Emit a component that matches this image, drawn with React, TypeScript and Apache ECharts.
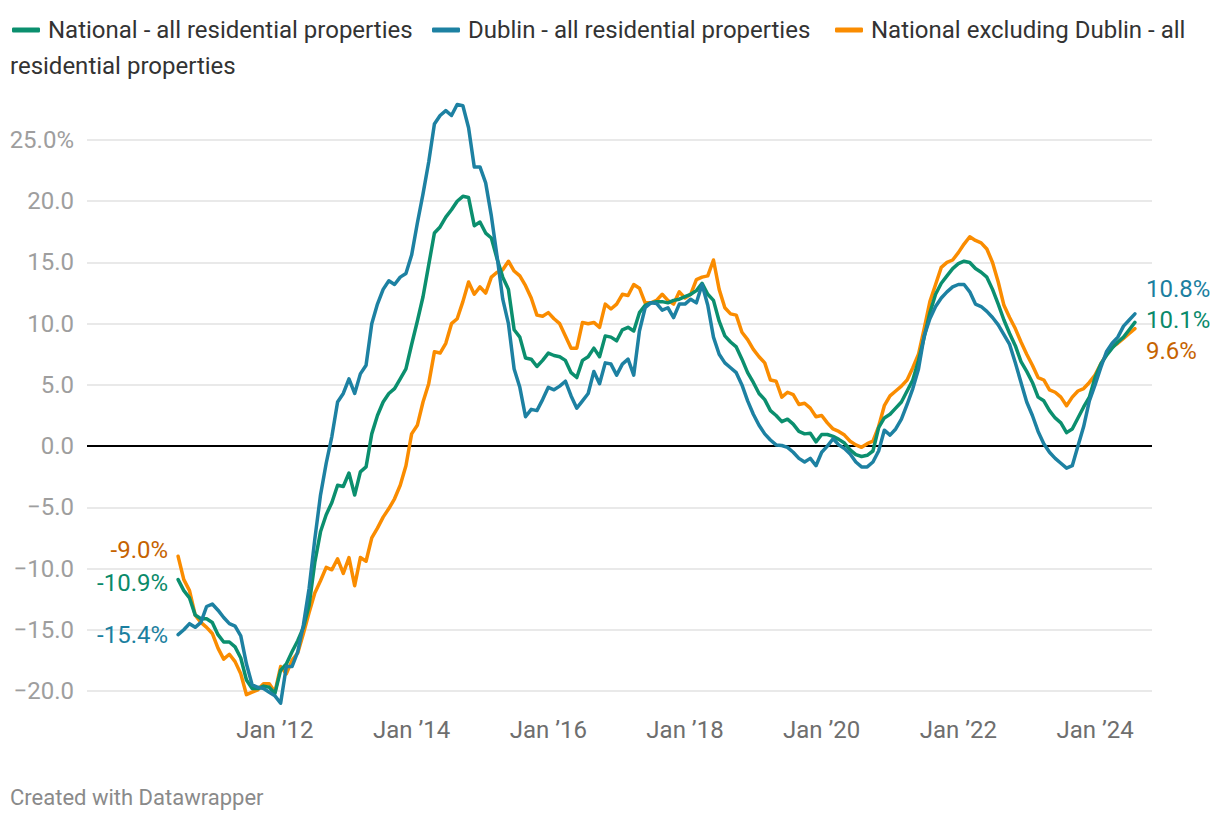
import React, { useEffect, useRef } from "react";
import * as echarts from "echarts";

// Monthly annual % change, Aug 2010 .. Aug 2024 (one row = 12 months from August)
const national = [
  -10.9, -11.8, -12.4, -13.8, -14.1, -14.1, -14.4, -15.4, -16.0, -16.0, -16.4, -17.3,
  -19.1, -19.8, -19.8, -19.6, -19.7, -20.2, -18.3, -17.8, -16.8, -15.9, -14.8, -13.0,
  -9.5, -7.0, -5.6, -4.6, -3.2, -3.3, -2.2, -4.0, -2.1, -1.7, 1.0, 2.5,
  3.6, 4.3, 4.7, 5.5, 6.3, 8.3, 10.2, 12.2, 14.8, 17.4, 17.9, 18.7,
  19.3, 20.0, 20.4, 20.3, 18.0, 18.3, 17.4, 17.0, 15.3, 13.8, 12.8, 9.5,
  8.9, 7.2, 7.1, 6.5, 7.0, 7.6, 7.4, 7.3, 7.0, 6.0, 5.6, 7.0,
  7.3, 8.0, 7.3, 9.0, 8.9, 8.6, 9.5, 9.7, 9.4, 10.9, 11.5, 11.7,
  11.8, 11.8, 11.7, 11.9, 12.0, 12.2, 12.4, 12.7, 13.3, 12.4, 11.9, 10.2,
  9.0, 8.5, 8.1, 7.1, 6.0, 5.2, 4.3, 3.8, 2.9, 2.5, 2.0, 2.2,
  1.8, 1.2, 1.0, 1.05, 0.35, 0.95, 0.95, 0.8, 0.55, 0.25, -0.3, -0.7,
  -0.85, -0.75, -0.4, 1.5, 2.3, 2.6, 3.1, 3.6, 4.5, 5.4, 7.0, 8.9,
  10.9, 12.4, 13.3, 13.9, 14.5, 14.9, 15.1, 15.0, 14.5, 14.2, 13.8, 12.8,
  11.6, 10.3, 9.2, 8.2, 6.9, 6.1, 5.2, 4.0, 3.7, 2.9, 2.3, 1.9,
  1.1, 1.4, 2.3, 3.2, 4.0, 5.6, 6.7, 7.4, 8.0, 8.5, 8.9, 9.5,
  10.1,
];

const dublin = [
  -15.4, -15.0, -14.5, -14.8, -14.4, -13.1, -12.9, -13.4, -14.0, -14.5, -14.7, -15.5,
  -17.8, -19.5, -19.7, -19.8, -20.1, -20.4, -21.0, -18.0, -18.0, -16.8, -14.6, -11.6,
  -7.6, -4.0, -1.4, 0.8, 3.6, 4.3, 5.5, 4.3, 5.9, 6.6, 10.0, 11.6,
  12.8, 13.5, 13.2, 13.8, 14.1, 15.6, 18.2, 20.6, 23.2, 26.3, 27.0, 27.4,
  27.0, 27.9, 27.8, 26.0, 22.8, 22.8, 21.5, 18.8, 15.5, 12.0, 10.0, 6.3,
  4.8, 2.4, 3.0, 2.9, 3.8, 4.8, 4.6, 4.9, 5.3, 4.1, 3.1, 3.7,
  4.3, 6.1, 5.1, 6.8, 6.7, 5.8, 6.7, 7.1, 5.8, 9.4, 11.3, 11.7,
  11.65, 11.1, 11.3, 10.5, 11.6, 11.6, 12.0, 11.7, 13.2, 11.5, 8.9, 7.5,
  6.8, 6.4, 6.0, 5.0, 3.7, 2.6, 1.7, 1.0, 0.5, 0.1, 0.05, -0.1,
  -0.5, -1.0, -1.3, -1.0, -1.6, -0.5, 0.0, 0.6, 0.1, -0.2, -0.65, -1.3,
  -1.7, -1.7, -1.3, -0.4, 1.3, 0.9, 1.4, 2.2, 3.4, 4.7, 6.3, 9.0,
  10.4, 11.4, 12.1, 12.6, 13.0, 13.2, 13.2, 12.6, 11.6, 11.4, 11.0, 10.5,
  9.9, 9.1, 8.3, 6.8, 5.2, 3.6, 2.5, 1.2, 0.2, -0.5, -1.0, -1.4,
  -1.8, -1.6, 0.0, 1.6, 3.7, 5.0, 6.4, 7.7, 8.4, 8.9, 9.8, 10.3,
  10.8,
];

const nationalExDublin = [
  -9.0, -10.9, -11.8, -13.8, -14.4, -14.8, -15.3, -16.5, -17.4, -17.0, -17.6, -18.6,
  -20.3, -20.1, -19.9, -19.4, -19.4, -20.1, -18.0, -18.6, -17.5, -16.9, -15.3, -13.6,
  -12.0, -11.0, -9.9, -10.1, -9.2, -10.4, -9.1, -11.4, -9.1, -9.4, -7.5, -6.7,
  -5.8, -5.1, -4.3, -3.2, -1.6, 1.0, 1.7, 3.6, 5.1, 7.7, 7.6, 8.4,
  10.0, 10.4, 11.8, 13.4, 12.4, 13.0, 12.5, 13.8, 14.2, 14.4, 15.1, 14.3,
  13.9, 13.1, 12.1, 10.7, 10.6, 10.9, 10.4, 10.0, 9.0, 8.0, 8.0, 10.1,
  10.0, 10.1, 9.7, 11.6, 11.2, 11.6, 12.4, 12.3, 13.2, 12.9, 11.7, 11.7,
  11.9, 12.4, 11.9, 11.6, 12.6, 12.1, 12.4, 13.6, 13.8, 13.9, 15.2, 12.8,
  11.3, 10.8, 10.7, 9.3, 8.7, 7.9, 7.3, 6.8, 5.4, 5.3, 4.0, 4.4,
  4.2, 3.4, 3.5, 3.1, 2.4, 2.5, 1.9, 1.4, 1.2, 0.9, 0.4, 0.1,
  -0.1, 0.2, 0.4, 1.6, 3.3, 4.1, 4.5, 4.9, 5.4, 6.4, 7.5, 9.6,
  11.8, 13.2, 14.6, 15.0, 15.2, 15.8, 16.5, 17.1, 16.8, 16.6, 16.1, 15.0,
  13.4, 11.5, 10.5, 9.6, 8.5, 7.5, 6.6, 5.6, 5.4, 4.6, 4.4, 4.0,
  3.3, 4.0, 4.5, 4.7, 5.2, 5.8, 6.7, 7.5, 8.1, 8.4, 8.8, 9.2,
  9.6,
];

const START_YEAR = 2010;
const START_MONTH = 7; // August (0-based)

const xTickYears = [2012, 2014, 2016, 2018, 2020, 2022, 2024];
const xTickLabels = ["Jan \u201912", "Jan \u201914", "Jan \u201916", "Jan \u201918", "Jan \u201920", "Jan \u201922", "Jan \u201924"];
const yTicks = [-20, -15, -10, -5, 0, 5, 10, 15, 20, 25];

const seriesNames = [
  "National - all residential properties",
  "Dublin - all residential properties",
  "National excluding Dublin - all residential properties",
];

const COLORS = { national: "#0b8f6e", dublin: "#1d81a2", exDublin: "#fa8c00" };
const TEXT_COLORS = { national: "#0a8a6a", dublin: "#1b7fa0", exDublin: "#c66300" };

const FONT = "Roboto, 'Noto Sans', sans-serif";

function monthIndex(year: number, month: number) {
  return (year - START_YEAR) * 12 + (month - START_MONTH);
}

function buildData(values: number[], color: string, startDy: number, endDy: number) {
  const last = values.length - 1;
  return values.map((v, i) => {
    if (i === 0) {
      return {
        value: [i, v],
        label: {
          show: true,
          position: "left",
          distance: 10,
          offset: [0, startDy],
          formatter: (v < 0 ? "-" : "") + Math.abs(v).toFixed(1) + "%",
          color,
          fontSize: 24,
          fontFamily: FONT,
        },
      };
    }
    if (i === last) {
      return {
        value: [i, v],
        label: {
          show: true,
          position: "right",
          distance: 11,
          offset: [0, endDy],
          formatter: v.toFixed(1) + "%",
          color,
          fontSize: 24,
          fontFamily: FONT,
        },
      };
    }
    return [i, v];
  });
}

export default function App() {
  const ref = useRef<HTMLDivElement>(null);

  useEffect(() => {
    if (!ref.current) return;
    const chart = echarts.init(ref.current, null, { renderer: "svg" });

    const tickIdx = xTickYears.map((y) => monthIndex(y, 0));
    const tickMap: Record<number, string> = {};
    tickIdx.forEach((t, i) => (tickMap[t] = xTickLabels[i]));

    const lineSeries = (name: string, values: number[], color: string, textColor: string, sdy: number, edy: number, extra: any = {}) => ({
      name,
      type: "line",
      data: buildData(values, textColor, sdy, edy),
      showSymbol: true,
      symbol: "circle",
      symbolSize: 0,
      clip: false,
      lineStyle: { color, width: 3.5, join: "round", cap: "round" },
      itemStyle: { color },
      emphasis: { disabled: true },
      ...extra,
    });

    const legendCommon = {
      top: 15,
      padding: 0,
      itemWidth: 28,
      itemHeight: 5,
      icon: "roundRect",
      selectedMode: false,
      textStyle: { fontSize: 24, fontFamily: FONT, color: "#333", padding: [0, 0, 0, 3], lineHeight: 30 },
    };

    chart.setOption({
      animation: false,
      grid: { left: 87, right: 68, top: 140, bottom: 131, containLabel: false },
      legend: [
        { ...legendCommon, left: 12, data: [seriesNames[0]] },
        { ...legendCommon, left: 432, data: [seriesNames[1]] },
        { ...legendCommon, left: 835, data: [seriesNames[2]], formatter: () => "National excluding Dublin - all" },
      ],
      xAxis: {
        type: "value",
        min: -16,
        max: 171,
        splitLine: { show: false },
        axisLine: { show: false },
        axisTick: { show: false },
        axisLabel: {
          customValues: tickIdx,
          formatter: (v: number) => tickMap[v] ?? "",
          fontSize: 24,
          fontFamily: FONT,
          color: "#6e6e6e",
          margin: 27,
        },
      },
      yAxis: {
        type: "value",
        min: yTicks[0],
        max: yTicks[yTicks.length - 1],
        interval: 5,
        axisLine: { show: false },
        axisTick: { show: false },
        splitLine: { lineStyle: { color: "#e2e2e2", width: 1.5 } },
        axisLabel: {
          fontSize: 24,
          fontFamily: FONT,
          color: "#9e9e9e",
          margin: 13,
          formatter: (v: number) => {
            if (v === yTicks[yTicks.length - 1]) return v.toFixed(1) + "%";
            if (v < 0) return "\u2212" + Math.abs(v).toFixed(1);
            return v.toFixed(1);
          },
        },
      },
      graphic: [
        {
          type: "text",
          x: 10,
          y: 66,
          style: { text: "residential properties", font: `24px ${FONT}`, fill: "#333", verticalAlign: "middle" },
        },
        {
          type: "text",
          x: 10,
          y: 797,
          style: { text: "Created with Datawrapper", font: `22px ${FONT}`, fill: "#8a8a8a", verticalAlign: "middle" },
        },
      ],
      series: [
        lineSeries(seriesNames[2], nationalExDublin, COLORS.exDublin, TEXT_COLORS.exDublin, -6, 22, {
          markLine: {
            silent: true,
            z: 1,
            symbol: ["none", "none"],
            label: { show: false },
            lineStyle: { color: "#000", width: 2, type: "solid" },
            data: [{ yAxis: 0 }],
          },
        }),
        lineSeries(seriesNames[0], national, COLORS.national, TEXT_COLORS.national, 3, -2),
        lineSeries(seriesNames[1], dublin, COLORS.dublin, TEXT_COLORS.dublin, 0, -25),
      ],
    });

    return () => chart.dispose();
  }, []);

  return <div ref={ref} style={{ position: "absolute", left: 0, top: 0, width: 1220, height: 822 }} />;
}
